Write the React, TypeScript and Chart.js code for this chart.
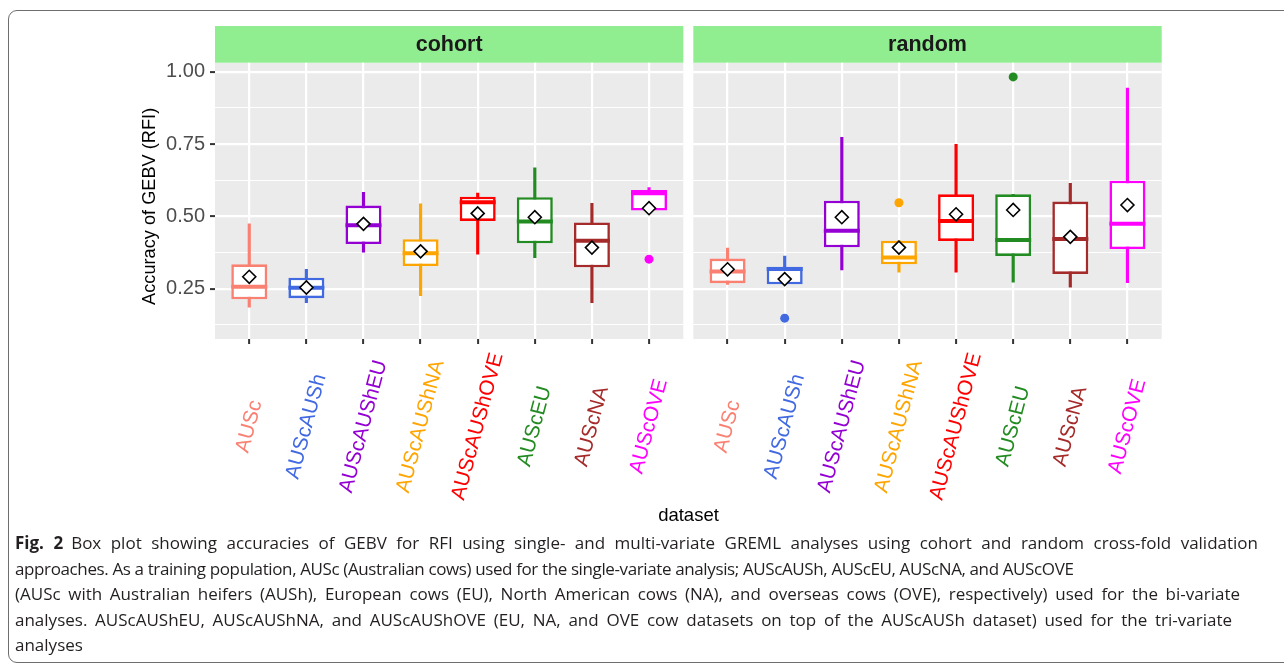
import React, { useEffect, useRef } from 'react';
import { Chart, registerables } from 'chart.js';

Chart.register(...registerables);

// ---------- data ----------
const categories = ['AUSc', 'AUScAUSh', 'AUScAUShEU', 'AUScAUShNA', 'AUScAUShOVE', 'AUScEU', 'AUScNA', 'AUScOVE'];
const categoryColors = ['#FA8072', '#4169E1', '#9400D3', '#FFA500', '#FF0000', '#228B22', '#A52A2A', '#FF00FF'];

const yGridValues = [0.125, 0.25, 0.375, 0.5, 0.625, 0.75, 0.875, 1.0];
const yMajorValues = [0.25, 0.5, 0.75, 1.0];
const yLimits = [0.076, 1.031];

// cohort panel
const cohortLowerWhisker = [0.186, 0.202, 0.376, 0.226, 0.369, 0.357, 0.202, 0.520];
const cohortQ1 = [0.213, 0.217, 0.404, 0.328, 0.484, 0.407, 0.324, 0.520];
const cohortMedian = [0.257, 0.253, 0.469, 0.372, 0.549, 0.482, 0.416, 0.580];
const cohortQ3 = [0.334, 0.288, 0.537, 0.421, 0.568, 0.566, 0.479, 0.591];
const cohortUpperWhisker = [0.474, 0.317, 0.583, 0.543, 0.580, 0.668, 0.545, 0.599];
const cohortMean = [0.291, 0.254, 0.474, 0.379, 0.510, 0.497, 0.392, 0.528];
const cohortOutlierCategory = [7];
const cohortOutlierValue = [0.352];

// random panel
const randomLowerWhisker = [0.265, 0.265, 0.315, 0.307, 0.307, 0.272, 0.255, 0.271];
const randomQ1 = [0.269, 0.265, 0.393, 0.334, 0.415, 0.363, 0.301, 0.387];
const randomMedian = [0.309, 0.318, 0.450, 0.358, 0.484, 0.418, 0.422, 0.474];
const randomQ3 = [0.354, 0.326, 0.554, 0.416, 0.576, 0.576, 0.551, 0.623];
const randomUpperWhisker = [0.390, 0.363, 0.773, 0.416, 0.749, 0.576, 0.614, 0.943];
const randomMean = [0.317, 0.283, 0.497, 0.392, 0.507, 0.522, 0.429, 0.539];
const randomOutlierCategory = [1, 3, 5];
const randomOutlierValue = [0.148, 0.547, 0.982];

const panelNames = ['cohort', 'random'];
const yAxisTitle = 'Accuracy of GEBV (RFI)';
const xAxisTitle = 'dataset';

const captionLines = [
  'Box plot showing accuracies of GEBV for RFI using single- and multi-variate GREML analyses using cohort and random cross-fold validation',
  'approaches. As a training population, AUSc (Australian cows) used for the single-variate analysis; AUScAUSh, AUScEU, AUScNA, and AUScOVE',
  '(AUSc with Australian heifers (AUSh), European cows (EU), North American cows (NA), and overseas cows (OVE), respectively) used for the bi-variate',
  'analyses. AUScAUShEU, AUScAUShNA, and AUScAUShOVE (EU, NA, and OVE cow datasets on top of the AUScAUSh dataset) used for the tri-variate',
  'analyses',
];
// justified widths of caption lines (0 = natural width)
const captionLineWidths = [1243, 0, 1225, 1217, 0];
const captionLineTracking = [0, -0.38, 0, 0, 0];

// ---------- style ----------
const FONT = '"Liberation Sans", Arial, Helvetica, sans-serif';
const W = 1284;
const H = 668;

type Panel = {
  name: string;
  low: number[];
  q1: number[];
  med: number[];
  q3: number[];
  high: number[];
  mean: number[];
  outCat: number[];
  outVal: number[];
};

const panels: Panel[] = [
  { name: panelNames[0], low: cohortLowerWhisker, q1: cohortQ1, med: cohortMedian, q3: cohortQ3, high: cohortUpperWhisker, mean: cohortMean, outCat: cohortOutlierCategory, outVal: cohortOutlierValue },
  { name: panelNames[1], low: randomLowerWhisker, q1: randomQ1, med: randomMedian, q3: randomQ3, high: randomUpperWhisker, mean: randomMean, outCat: randomOutlierCategory, outVal: randomOutlierValue },
];

function isMajor(v: number) {
  return yMajorValues.some((m) => Math.abs(m - v) < 1e-6);
}

function makeConfig(panel: Panel, withYAxis: boolean, padLeft: number, padRight: number): any {
  const BOX_INDEX = 1;
  const panelPlugin = {
    id: 'panelDecor' + panel.name,
    beforeDraw(chart: any) {
      const { ctx, chartArea } = chart;
      ctx.save();
      ctx.fillStyle = '#EBEBEB';
      ctx.fillRect(chartArea.left, chartArea.top, chartArea.right - chartArea.left, chartArea.bottom - chartArea.top);
      // strip
      const stripH = 36.7;
      ctx.fillStyle = '#90EE90';
      ctx.fillRect(chartArea.left, chartArea.top - stripH, chartArea.right - chartArea.left, stripH);
      ctx.fillStyle = '#1A1A1A';
      ctx.font = 'bold 21.5px ' + FONT;
      ctx.textAlign = 'center';
      ctx.textBaseline = 'middle';
      ctx.fillText(panel.name, (chartArea.left + chartArea.right) / 2, chartArea.top - stripH / 2 + 1);
      ctx.restore();
    },
    afterDatasetDraw(chart: any, args: any) {
      if (args.index !== BOX_INDEX) return;
      const { ctx } = chart;
      const ys = chart.scales.y;
      ctx.save();
      ctx.lineWidth = 4;
      args.meta.data.forEach((bar: any, i: number) => {
        const y = ys.getPixelForValue(panel.med[i]);
        ctx.strokeStyle = categoryColors[i];
        ctx.beginPath();
        ctx.moveTo(bar.x - bar.width / 2, y);
        ctx.lineTo(bar.x + bar.width / 2, y);
        ctx.stroke();
      });
      ctx.restore();
    },
    afterDraw(chart: any) {
      const { ctx, chartArea } = chart;
      const xs = chart.scales.x;
      ctx.save();
      ctx.font = '20.8px ' + FONT;
      ctx.textAlign = 'center';
      ctx.textBaseline = 'middle';
      categories.forEach((c, i) => {
        const x = xs.getPixelForValue(i);
        ctx.save();
        ctx.translate(x, chartArea.bottom + 87.5);
        ctx.rotate((-75 * Math.PI) / 180);
        ctx.fillStyle = categoryColors[i];
        ctx.fillText(c, 0, 0);
        ctx.restore();
      });
      if (withYAxis) {
        ctx.save();
        ctx.font = '18.2px ' + FONT;
        ctx.fillStyle = '#000000';
        ctx.translate(150, (chartArea.top + chartArea.bottom) / 2 + 5.5);
        ctx.rotate(-Math.PI / 2);
        ctx.fillText(yAxisTitle, 0, 0);
        ctx.restore();
      }
      ctx.restore();
    },
  };

  const yAxisWidth = 215 - padLeft;

  return {
    type: 'bar',
    data: {
      datasets: [
        {
          label: 'whisker',
          order: 3,
          data: categories.map((_, i) => ({ x: i, y: [panel.low[i], panel.high[i]] })),
          backgroundColor: categoryColors,
          borderWidth: 0,
          barThickness: 2.5,
          grouped: false,
        },
        {
          label: 'box',
          order: 2,
          data: categories.map((_, i) => ({ x: i, y: [panel.q1[i], panel.q3[i]] })),
          backgroundColor: '#FFFFFF',
          borderColor: categoryColors,
          borderWidth: 2.6,
          borderSkipped: false,
          categoryPercentage: 1,
          barPercentage: 0.63,
          grouped: false,
        },
        {
          type: 'scatter',
          label: 'mean',
          order: 0,
          data: categories.map((_, i) => ({ x: i, y: panel.mean[i] })),
          pointStyle: 'rectRot',
          pointRadius: 6.5,
          pointBorderColor: '#000000',
          pointBackgroundColor: '#FFFFFF',
          pointBorderWidth: 1.6,
        },
        {
          type: 'scatter',
          label: 'outlier',
          order: 1,
          data: panel.outCat.map((c, k) => ({ x: c, y: panel.outVal[k] })),
          pointStyle: 'circle',
          pointRadius: 4.5,
          pointBorderWidth: 0,
          pointBackgroundColor: panel.outCat.map((c) => categoryColors[c]),
        },
      ],
    },
    options: {
      responsive: false,
      animation: false,
      events: [],
      layout: { padding: { left: padLeft, right: padRight, top: 62.7, bottom: 323 } },
      plugins: { legend: { display: false }, tooltip: { enabled: false } },
      scales: {
        x: {
          type: 'linear',
          min: -0.6,
          max: categories.length - 1 + 0.6,
          offset: false,
          afterBuildTicks: (scale: any) => {
            scale.ticks = categories.map((_, i) => ({ value: i }));
          },
          afterFit: (scale: any) => {
            scale.height = 6;
          },
          ticks: { display: false },
          border: { display: false },
          grid: {
            offset: false,
            color: '#FFFFFF',
            lineWidth: 2.2,
            drawTicks: true,
            tickLength: 5,
            tickColor: '#333333',
            tickWidth: 2,
          },
        },
        y: {
          type: 'linear',
          min: yLimits[0],
          max: yLimits[1],
          afterBuildTicks: (scale: any) => {
            scale.ticks = yGridValues.map((v) => ({ value: v }));
          },
          afterFit: (scale: any) => {
            scale.width = withYAxis ? yAxisWidth : 0;
          },
          border: { display: false },
          grid: {
            color: '#FFFFFF',
            lineWidth: (c: any) => (c.tick && isMajor(c.tick.value) ? 2.2 : 1.1),
            drawTicks: withYAxis,
            tickLength: 5,
            tickWidth: 2,
            tickColor: (c: any) => (c.tick && isMajor(c.tick.value) ? '#333333' : 'rgba(0,0,0,0)'),
          },
          ticks: {
            display: withYAxis,
            padding: 5,
            color: '#4D4D4D',
            font: { family: FONT, size: 20 },
            callback: (v: any) => (isMajor(Number(v)) ? Number(v).toFixed(2) : ''),
          },
          title: { display: false },
        },
      },
    },
    plugins: [panelPlugin],
  };
}

function PanelChart({ panel, withYAxis, padLeft, padRight }: { panel: Panel; withYAxis: boolean; padLeft: number; padRight: number }) {
  const ref = useRef<HTMLCanvasElement | null>(null);
  useEffect(() => {
    if (!ref.current) return;
    const chart = new Chart(ref.current, makeConfig(panel, withYAxis, padLeft, padRight));
    return () => chart.destroy();
  }, [panel, withYAxis, padLeft, padRight]);
  return (
    <canvas
      ref={ref}
      width={W}
      height={H}
      style={{ position: 'absolute', left: 0, top: 0, width: W, height: H }}
    />
  );
}

export default function App() {
  return (
    <div style={{ position: 'absolute', left: 0, top: 0, width: W, height: H, overflow: 'hidden', background: '#FFFFFF' }}>
      <div
        style={{
          position: 'absolute',
          left: 8,
          top: 10,
          width: 1300,
          height: 653,
          border: '1.5px solid #6E6E6E',
          borderRadius: 9,
          boxSizing: 'border-box',
        }}
      />
      <PanelChart panel={panels[0]} withYAxis={true} padLeft={130} padRight={W - 683.3} />
      <PanelChart panel={panels[1]} withYAxis={false} padLeft={693.3} padRight={W - 1161.7} />
      <div
        style={{
          position: 'absolute',
          left: 588.5,
          width: 200,
          top: 503,
          textAlign: 'center',
          fontFamily: FONT,
          fontSize: 18.5,
          lineHeight: '24px',
          color: '#000000',
        }}
      >
        {xAxisTitle}
      </div>
      <div
        style={{
          position: 'absolute',
          left: 15,
          top: 530,
          fontFamily: '"Open Sans", "Noto Sans", sans-serif',
          fontSize: 17,
          lineHeight: '25.6px',
          color: '#231F20',
        }}
      >
        {captionLines.map((line, i) => {
          const w = captionLineWidths[i];
          const style: any = w
            ? { width: w, textAlign: 'justify', textAlignLast: 'justify', whiteSpace: 'normal' }
            : { whiteSpace: 'nowrap', letterSpacing: captionLineTracking[i] };
          return (
            <div key={i} style={style}>
              {i === 0 ? <b style={{ marginRight: 8 }}>Fig. 2</b> : null}
              {line}
            </div>
          );
        })}
      </div>
    </div>
  );
}
